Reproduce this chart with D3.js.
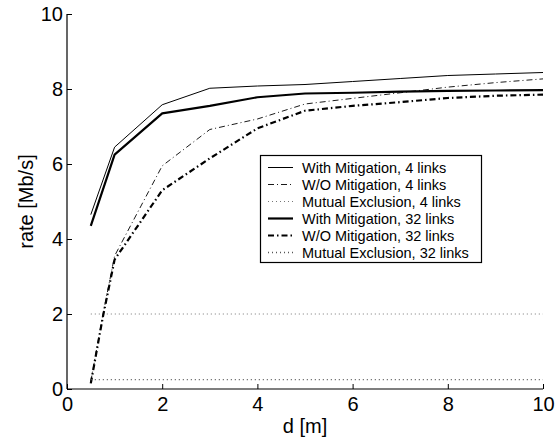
<!DOCTYPE html>
<html>
<head>
<meta charset="utf-8">
<script src="https://cdn.jsdelivr.net/npm/d3@7"></script>
<style>
  body { margin: 0; background: #fff; }
  svg text { font-family: "Liberation Sans", Arial, Helvetica, sans-serif; fill: #000; }
</style>
</head>
<body>
<div id="chart"></div>
<script>
// data
const d = [0.5, 1, 2, 3, 4, 5, 6, 7, 8, 9, 10]
const dWo = [0.5, 0.75, 1, 2, 3, 4, 5, 6, 7, 8, 9, 10]
const withMit4 = [4.65, 6.45, 7.58, 8.02, 8.08, 8.12, 8.2, 8.28, 8.36, 8.4, 8.44]
const woMit4 = [0.2, 1.95, 3.55, 5.95, 6.92, 7.2, 7.6, 7.75, 7.9, 8.05, 8.17, 8.27]
const mutEx4 = [2, 2, 2, 2, 2, 2, 2, 2, 2, 2, 2]
const withMit32 = [4.35, 6.25, 7.35, 7.55, 7.78, 7.88, 7.9, 7.93, 7.95, 7.96, 7.97]
const woMit32 = [0.15, 1.9, 3.45, 5.3, 6.15, 6.95, 7.42, 7.55, 7.65, 7.76, 7.82, 7.85]
const mutEx32 = [0.25, 0.25, 0.25, 0.25, 0.25, 0.25, 0.25, 0.25, 0.25, 0.25, 0.25]
const xTicks = [0, 2, 4, 6, 8, 10]
const yTicks = [0, 2, 4, 6, 8, 10]
const labels = ["With Mitigation, 4 links", "W/O Mitigation, 4 links", "Mutual Exclusion, 4 links",
    "With Mitigation, 32 links", "W/O Mitigation, 32 links", "Mutual Exclusion, 32 links"]

const width = 557
const height = 441
const margin = { top: 14, bottom: 52, right: 14, left: 67 }

const series = [
    { xs: d, ys: withMit4, w: 1, dash: null, color: "#000" },
    { xs: dWo, ys: woMit4, w: 0.9, dash: "6,3,1,3", color: "#000" },
    { xs: d, ys: mutEx4, w: 1, dash: "1,3", color: "#777" },
    { xs: d, ys: withMit32, w: 2.2, dash: null, color: "#000" },
    { xs: dWo, ys: woMit32, w: 2.2, dash: "6,3,1.5,3", color: "#000" },
    { xs: d, ys: mutEx32, w: 1.4, dash: "1,3", color: "#555" }
]

const svg = d3.select("div#chart").append("svg").attr("width", width).attr("height", height)
const elementGroup = svg.append("g").attr("transform", `translate(${margin.left}, ${margin.top})`)
const xAxisGroup = svg.append("g").attr("transform", `translate(${margin.left}, ${height - margin.bottom})`)
const yAxisGroup = svg.append("g").attr("transform", `translate(${margin.left}, ${margin.top})`)

const x = d3.scaleLinear().domain([0, 10]).range([0, width - margin.left - margin.right])
const y = d3.scaleLinear().domain([0, 10]).range([height - margin.top - margin.bottom, 0])

const xAxis = d3.axisBottom(x).tickValues(xTicks).tickSize(-5).tickPadding(8).tickFormat(d3.format("d"))
const yAxis = d3.axisLeft(y).tickValues(yTicks).tickSize(-5).tickPadding(4).tickFormat(d3.format("d"))
xAxisGroup.call(xAxis)
yAxisGroup.call(yAxis)

// only left and bottom lines, no end caps
xAxisGroup.select(".domain").attr("d", `M0,0H${x(10)}`)
yAxisGroup.select(".domain").attr("d", `M0,${y(10)}V${y(0)}`)
svg.selectAll(".domain").attr("stroke", "#000").attr("stroke-width", 1.2)
svg.selectAll(".tick line").attr("stroke", "#000")
svg.selectAll(".tick text").attr("font-size", 20)

const line = d3.line().x(p => x(p[0])).y(p => y(p[1]))

series.forEach(s => {
    elementGroup.append("path")
        .attr("d", line(s.xs.map((v, i) => [v, s.ys[i]])))
        .attr("fill", "none")
        .attr("stroke", s.color)
        .attr("stroke-width", s.w)
        .attr("stroke-dasharray", s.dash)
        .attr("stroke-linejoin", "round")
})

// axis labels
svg.append("text").attr("x", margin.left + x(5)).attr("y", 433)
    .attr("text-anchor", "middle").attr("font-size", 20).text("d [m]")
svg.append("text").attr("transform", `translate(33, ${margin.top + y(5)}) rotate(-90)`)
    .attr("text-anchor", "middle").attr("font-size", 20).text("rate [Mb/s]")

// legend
const legend = svg.append("g").attr("transform", "translate(260, 155)")
legend.append("rect").attr("x", 0.5).attr("y", 0.5).attr("width", 221).attr("height", 107)
    .attr("fill", "#fff").attr("stroke", "#000").attr("stroke-width", 1.2)
labels.forEach((t, i) => {
    const yy = 12.5 + i * 17
    const s = series[i]
    legend.append("line").attr("x1", 8).attr("x2", 33).attr("y1", yy).attr("y2", yy)
        .attr("stroke", s.color).attr("stroke-width", s.w).attr("stroke-dasharray", s.dash)
    legend.append("text").attr("x", 42).attr("y", yy).attr("dy", "0.35em")
        .attr("font-size", 14.5).text(t)
})
</script>
</body>
</html>
